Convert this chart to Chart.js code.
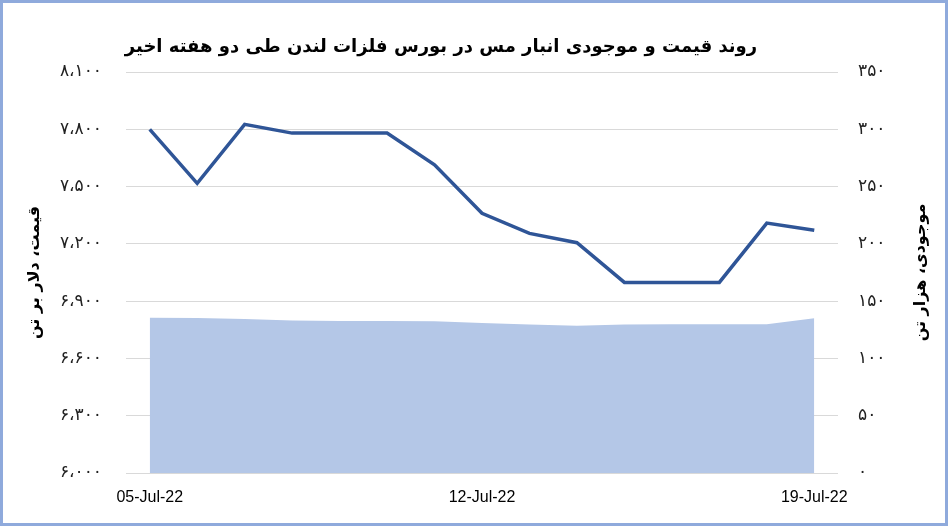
<!DOCTYPE html>
<html>
<head>
<meta charset="utf-8">
<script src="https://cdn.jsdelivr.net/npm/chart.js@4.4.0/dist/chart.umd.min.js"></script>
<style>
  html, body { margin: 0; padding: 0; background: #fff; }
  #wrap { width: 948px; height: 526px; box-sizing: border-box; border: 3px solid #8faadc; background: #fff; }
  canvas { display: block; }
</style>
</head>
<body>
<div id="wrap"><canvas id="chart" width="942" height="520"></canvas></div>
<script>
// dates, daily from 5 to 19 July 2022
const dates = ['05-Jul-22', '06-Jul-22', '07-Jul-22', '08-Jul-22', '09-Jul-22', '10-Jul-22', '11-Jul-22',
               '12-Jul-22', '13-Jul-22', '14-Jul-22', '15-Jul-22', '16-Jul-22', '17-Jul-22', '18-Jul-22', '19-Jul-22'];
const shownDates = ['05-Jul-22', '12-Jul-22', '19-Jul-22'];

// copper price, $ per tonne (left axis)
const price = [7800, 7517, 7826, 7780, 7780, 7780, 7614, 7360, 7255, 7206, 6998, 6998, 6998, 7309, 7271];
// LME copper stocks, thousand tonnes (right axis)
const stocks = [135.6, 135.3, 134.5, 133.0, 132.7, 132.7, 132.5, 131.0, 129.7, 128.6, 129.7, 129.9, 129.9, 129.9, 135.1];

const titleText = 'روند قیمت و موجودی انبار مس در بورس فلزات لندن طی دو هفته اخیر';
const leftTitle = 'قیمت، دلار بر تن';
const rightTitle = 'موجودی، هزار تن';

const faDigits = '۰۱۲۳۴۵۶۷۸۹';
function toFa(n) {
    return n.toLocaleString('en-US').replace(/,/g, '،').replace(/\d/g, d => faDigits[d]);
}

const faFont = "'DejaVu Sans', sans-serif";

// title and right axis title drawn on top of the chart
const extraText = {
    id: 'extraText',
    afterDraw(chart) {
        const ctx = chart.ctx;
        const area = chart.chartArea;
        ctx.save();
        ctx.fillStyle = '#000';
        ctx.textAlign = 'center';
        ctx.textBaseline = 'middle';
        ctx.font = "bold 18px " + faFont;
        ctx.fillText(titleText, 438, 44);

        ctx.translate(918, (area.top + area.bottom) / 2);
        ctx.rotate(-Math.PI / 2);
        ctx.font = "bold 16px " + faFont;
        ctx.fillText(rightTitle, 0, 0);
        ctx.restore();
    }
};

new Chart(document.getElementById('chart'), {
    type: 'line',
    data: {
        labels: dates,
        datasets: [
            {
                label: 'price',
                data: price,
                yAxisID: 'y',
                borderColor: '#2f5597',
                borderWidth: 3.5,
                pointRadius: 0,
                tension: 0,
                fill: false
            },
            {
                label: 'stocks',
                data: stocks,
                yAxisID: 'y1',
                borderWidth: 0,
                borderColor: 'rgba(0,0,0,0)',
                backgroundColor: '#b4c7e7',
                pointRadius: 0,
                tension: 0,
                fill: 'origin'
            }
        ]
    },
    options: {
        responsive: false,
        animation: false,
        devicePixelRatio: 1,
        layout: { padding: { top: 69, left: 0, right: 0, bottom: 0 } },
        plugins: {
            legend: { display: false },
            tooltip: { enabled: false },
            title: { display: false }
        },
        scales: {
            x: {
                offset: true,
                grid: { display: false, drawTicks: false },
                border: { display: false },
                ticks: {
                    autoSkip: false,
                    maxRotation: 0,
                    padding: 15,
                    color: '#000',
                    font: { family: "'Liberation Sans Narrow', 'Liberation Sans', sans-serif", size: 16 },
                    callback: function(value, index) {
                        const d = this.getLabelForValue(value);
                        return shownDates.includes(d) ? d : '';
                    }
                },
                afterFit: s => { s.height = 50; }
            },
            y: {
                position: 'left',
                min: 6000,
                max: 8100,
                ticks: {
                    stepSize: 300,
                    padding: 24,
                    color: '#222',
                    font: { family: faFont, size: 17 },
                    callback: v => toFa(v)
                },
                grid: { color: '#d9d9d9', lineWidth: 1, drawTicks: false },
                border: { display: false },
                title: {
                    display: true,
                    text: leftTitle,
                    color: '#000',
                    font: { family: faFont, size: 16, weight: 'bold' },
                    padding: { top: 22, bottom: 0 }
                },
                afterFit: s => { s.width = 123; }
            },
            y1: {
                position: 'right',
                min: 0,
                max: 350,
                ticks: {
                    stepSize: 50,
                    padding: 20,
                    color: '#222',
                    font: { family: faFont, size: 17 },
                    callback: v => toFa(v)
                },
                grid: { display: false, drawTicks: false },
                border: { display: false },
                afterFit: s => { s.width = 107; }
            }
        }
    },
    plugins: [extraText]
});
</script>
</body>
</html>
